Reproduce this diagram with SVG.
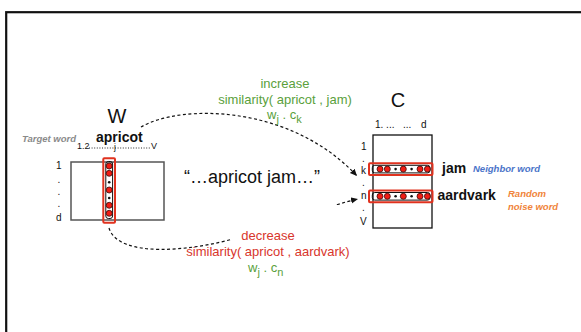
<svg xmlns="http://www.w3.org/2000/svg" width="581" height="332" viewBox="0 0 581 332">
<defs>
<style>
text{font-family:"Liberation Sans",Arial,sans-serif;fill:#111}
.big{font-size:20px}
.sm{font-size:10px}
.bold{font-weight:bold;font-size:14px}
.tag{font-weight:bold;font-style:italic;font-size:9.5px}
.g{fill:#5a9f3c;font-size:13px}
.r{fill:#d8362c;font-size:13px}
.sel{fill:none;stroke:#e0321f;stroke-width:2}
.inner{fill:none;stroke:#111;stroke-width:1}
.rd{fill:#f01c14;stroke:#3a0a08;stroke-width:0.8}
.bd{fill:#111}
.conn{fill:none;stroke:#111;stroke-width:1.2;stroke-dasharray:3,2.5}
</style>
<marker id="ah" markerWidth="8" markerHeight="8" refX="7" refY="4" orient="auto" markerUnits="userSpaceOnUse">
<path d="M0,0.8 L7,4 L0,7.2 z" fill="#111"/>
</marker>
</defs>
<rect x="0" y="0" width="581" height="332" fill="#fff"/>
<rect x="6.2" y="12.2" width="620" height="400" fill="none" stroke="#111" stroke-width="2.2"/>

<g id="connectors">
<path class="conn" d="M141,127 C180,104 290,104 357,176" marker-end="url(#ah)"/>
<path class="conn" d="M109,228 C118,258 190,252 240,237 C290,222 330,205 358,199" marker-end="url(#ah)"/>
</g>

<g id="label-increase">
<text class="g" x="285" y="88" text-anchor="middle">increase</text>
<text class="g" x="285" y="104" text-anchor="middle">similarity( apricot , jam)</text>
<text class="g" x="267" y="119">w<tspan font-size="11" dy="4">j</tspan><tspan dy="-4"> . c</tspan><tspan font-size="11" dy="4">k</tspan></text>
</g>

<g id="label-decrease">
<rect x="232" y="205" width="112" height="40" fill="#fff"/>
<text class="r" x="268" y="240" text-anchor="middle">decrease</text>
<text class="r" x="268" y="256" text-anchor="middle">similarity( apricot , aardvark)</text>
<text class="g" x="248" y="272">w<tspan font-size="11" dy="4">j</tspan><tspan dy="-4"> . c</tspan><tspan font-size="11" dy="4">n</tspan></text>
</g>

<g id="context">
<text x="184" y="183" font-size="18">“…apricot jam…”</text>
</g>

<g id="W">
<text class="big" x="117" y="123" text-anchor="middle">W</text>
<text class="tag" x="22" y="142" style="fill:#8a8a8a">Target word</text>
<text class="bold" x="96" y="142">apricot</text>
<text x="77" y="149" font-size="9">1.2</text>
<line x1="89" y1="148" x2="150" y2="148" stroke="#111" stroke-width="0.9" stroke-dasharray="1,1.6"/>
<text x="114" y="150" font-size="8.5">j</text>
<text x="151" y="149" font-size="9">V</text>
<rect x="71" y="162" width="93" height="58" fill="#fff" stroke="#555" stroke-width="1.5"/>
<text class="sm" x="56" y="169">1</text>
<text class="sm" x="57.5" y="183">.</text>
<text class="sm" x="57.5" y="195">.</text>
<text class="sm" x="57.5" y="207">.</text>
<text class="sm" x="56" y="221">d</text>
<rect class="sel" x="103.3" y="158.3" width="11.7" height="64.4" rx="1"/>
<rect class="inner" x="105.8" y="161.5" width="6.8" height="57" rx="2.5"/>
<circle class="rd" cx="109.2" cy="166" r="3"/>
<circle class="rd" cx="109.2" cy="173.3" r="3"/>
<circle class="bd" cx="109.2" cy="182.3" r="1.3"/>
<circle class="rd" cx="109.2" cy="190" r="3"/>
<circle class="bd" cx="109.2" cy="198" r="1.3"/>
<circle class="rd" cx="109.2" cy="205.3" r="3"/>
<circle class="rd" cx="109.2" cy="213.3" r="3"/>
</g>

<g id="C">
<text class="big" x="398" y="107" text-anchor="middle">C</text>
<text class="sm" x="375" y="128">1. ...</text>
<text class="sm" x="403" y="128">...</text>
<text class="sm" x="421" y="128">d</text>
<rect x="373" y="135" width="59" height="93" fill="#fff" stroke="#111" stroke-width="1.3"/>
<text class="sm" x="361" y="150">1</text>
<text class="sm" x="362" y="162">.</text>
<text class="sm" x="361" y="174">k</text>
<text class="sm" x="362" y="186">.</text>
<text class="sm" x="361" y="199">n</text>
<text class="sm" x="362" y="211">.</text>
<text class="sm" x="360" y="225">V</text>
</g>

<g id="row-k">
<rect class="sel" x="369" y="163.3" width="63.5" height="11.7" rx="1"/>
<rect class="inner" x="372.3" y="165.3" width="57.7" height="7.6" rx="2.5"/>
<circle class="rd" cx="380" cy="169.1" r="3"/>
<circle class="rd" cx="387.3" cy="169.1" r="3"/>
<circle class="bd" cx="395.6" cy="169.1" r="1.3"/>
<circle class="rd" cx="403.3" cy="169.1" r="3"/>
<circle class="bd" cx="411.6" cy="169.1" r="1.3"/>
<circle class="rd" cx="420" cy="169.1" r="3"/>
<circle class="rd" cx="427.4" cy="169.1" r="3"/>
<text class="bold" x="442" y="173">jam</text>
<text class="tag" x="473" y="172" style="fill:#4a74c9">Neighbor word</text>
</g>

<g id="row-n">
<rect class="sel" x="369" y="190.5" width="63.5" height="11.7" rx="1"/>
<rect class="inner" x="372.3" y="192.5" width="57.7" height="7.6" rx="2.5"/>
<circle class="rd" cx="380" cy="196.3" r="3"/>
<circle class="rd" cx="387.3" cy="196.3" r="3"/>
<circle class="bd" cx="395.6" cy="196.3" r="1.3"/>
<circle class="rd" cx="403.3" cy="196.3" r="3"/>
<circle class="bd" cx="411.6" cy="196.3" r="1.3"/>
<circle class="rd" cx="420" cy="196.3" r="3"/>
<circle class="rd" cx="427.4" cy="196.3" r="3"/>
<text class="bold" x="437.5" y="200">aardvark</text>
<text class="tag" x="508" y="197" style="fill:#f0843a">Random</text>
<text class="tag" x="508" y="210" style="fill:#f0843a">noise word</text>
</g>
</svg>
